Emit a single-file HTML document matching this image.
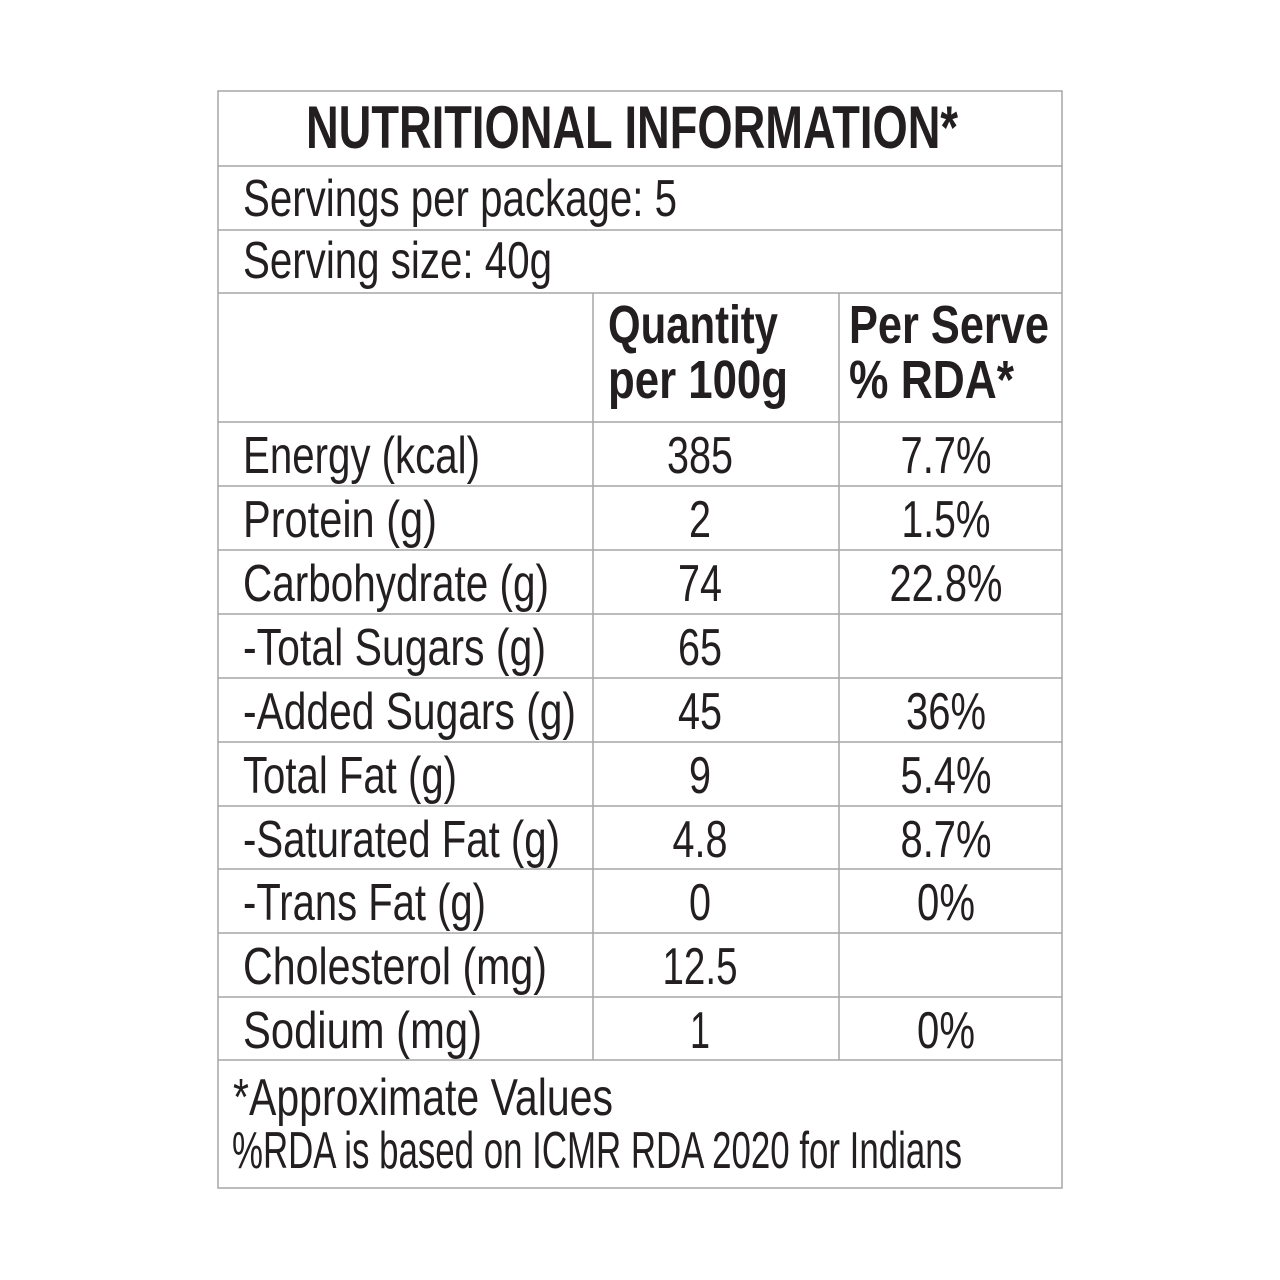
<!DOCTYPE html>
<html><head><meta charset="utf-8"><style>
html,body{margin:0;padding:0;background:#fff;}
svg{display:block;}
text{font-family:"Liberation Sans",sans-serif;fill:#231f20;}
</style></head><body>
<svg width="1280" height="1280" viewBox="0 0 1280 1280">
<g stroke="#a6a6a6" stroke-width="1.5" fill="none">
<rect x="218" y="91" width="844" height="1097"/>
<line x1="218" y1="166" x2="1062" y2="166"/>
<line x1="218" y1="230" x2="1062" y2="230"/>
<line x1="218" y1="293" x2="1062" y2="293"/>
<line x1="218" y1="422" x2="1062" y2="422"/>
<line x1="218" y1="486" x2="1062" y2="486"/>
<line x1="218" y1="550" x2="1062" y2="550"/>
<line x1="218" y1="614" x2="1062" y2="614"/>
<line x1="218" y1="678" x2="1062" y2="678"/>
<line x1="218" y1="742" x2="1062" y2="742"/>
<line x1="218" y1="806" x2="1062" y2="806"/>
<line x1="218" y1="869" x2="1062" y2="869"/>
<line x1="218" y1="933" x2="1062" y2="933"/>
<line x1="218" y1="997" x2="1062" y2="997"/>
<line x1="218" y1="1060" x2="1062" y2="1060"/>
<line x1="593" y1="293" x2="593" y2="1060"/>
<line x1="839" y1="293" x2="839" y2="1060"/>
</g>
<text x="306" y="148" font-size="60" font-weight="bold" textLength="652" lengthAdjust="spacingAndGlyphs">NUTRITIONAL INFORMATION*</text>
<text x="243" y="216" font-size="52" textLength="434" lengthAdjust="spacingAndGlyphs">Servings per package: 5</text>
<text x="243" y="278" font-size="52" textLength="309" lengthAdjust="spacingAndGlyphs">Serving size: 40g</text>
<text x="608" y="343" font-size="54" font-weight="bold" textLength="170" lengthAdjust="spacingAndGlyphs">Quantity</text>
<text x="608" y="398" font-size="54" font-weight="bold" textLength="180" lengthAdjust="spacingAndGlyphs">per 100g</text>
<text x="849" y="343" font-size="54" font-weight="bold" textLength="200" lengthAdjust="spacingAndGlyphs">Per Serve</text>
<text x="849" y="398" font-size="54" font-weight="bold" textLength="165" lengthAdjust="spacingAndGlyphs">% RDA*</text>
<g id="rows"></g>
<text x="233" y="1115" font-size="52" textLength="380" lengthAdjust="spacingAndGlyphs">*Approximate Values</text>
<text x="232" y="1168" font-size="52" textLength="730" lengthAdjust="spacingAndGlyphs">%RDA is based on ICMR RDA 2020 for Indians</text>
</svg>
<script>
const labels=["Energy (kcal)","Protein (g)","Carbohydrate (g)","-Total Sugars (g)","-Added Sugars (g)","Total Fat (g)","-Saturated Fat (g)","-Trans Fat (g)","Cholesterol (mg)","Sodium (mg)"];
const quantities=["385","2","74","65","45","9","4.8","0","12.5","1"];
const rdas=["7.7%","1.5%","22.8%","","36%","5.4%","8.7%","0%","","0%"];
const labelWidths=[237,194,306,303,333,214,317,243,304,239];
const rowTops=[422,486,550,614,678,742,806,869,933,997];
const ns="http://www.w3.org/2000/svg";
const g=document.getElementById("rows");
function cw(s){let w=0;for(const c of s){w+=c==='.'?11:c==='%'?36:c==='1'?20:22;}return w;}
labels.forEach((l,i)=>{
  const y=rowTops[i]+51;
  const t=document.createElementNS(ns,"text");
  
  
  t.setAttribute("x",243);t.setAttribute("y",y);t.setAttribute("font-size",52);
  t.setAttribute("textLength",labelWidths[i]);t.setAttribute("lengthAdjust","spacingAndGlyphs");
  t.textContent=l;g.appendChild(t);
  const q=document.createElementNS(ns,"text");
  
  
  const qw=cw(quantities[i]);
  q.setAttribute("x",700-qw/2);q.setAttribute("y",y);q.setAttribute("font-size",52);
  q.setAttribute("textLength",qw);q.setAttribute("lengthAdjust","spacingAndGlyphs");
  q.textContent=quantities[i];g.appendChild(q);
  if(rdas[i]){
    const r=document.createElementNS(ns,"text");
    
    
    const rw=cw(rdas[i]);
    r.setAttribute("x",946-rw/2);r.setAttribute("y",y);r.setAttribute("font-size",52);
    r.setAttribute("textLength",rw);r.setAttribute("lengthAdjust","spacingAndGlyphs");
    r.textContent=rdas[i];g.appendChild(r);
  }
});
</script>
</body></html>
